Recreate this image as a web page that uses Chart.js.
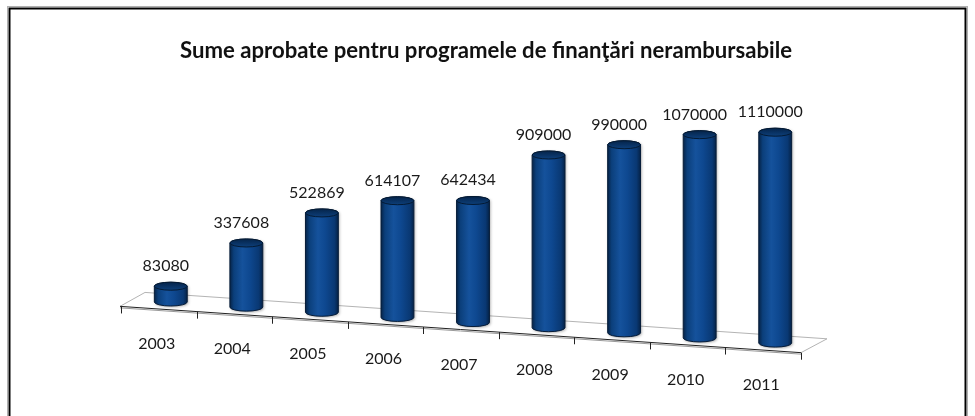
<!DOCTYPE html>
<html>
<head>
<meta charset="utf-8">
<script src="https://cdn.jsdelivr.net/npm/chart.js@4.4.1/dist/chart.umd.min.js"></script>
<style>
html,body{margin:0;padding:0;background:#fff;}
canvas{display:block;}
</style>
</head>
<body>
<canvas id="c" width="975" height="416"></canvas>
<script>
const titleText = 'Sume aprobate pentru programele de finanţări nerambursabile';
const categories = ['2003','2004','2005','2006','2007','2008','2009','2010','2011'];
const values = [83080, 337608, 522869, 614107, 642434, 909000, 990000, 1070000, 1110000];
const valueLabels = ['83080','337608','522869','614107','642434','909000','990000','1070000','1110000'];

const SLOPE = 0.068;      // perspective slope of floor
const DEPTH_X = 12, DEPTH_Y = 7; // half depth offset of floor
const RY = 4;

const cylPlugin = {
  id: 'cyl3d',
  beforeDraw(chart) {
    const ctx = chart.ctx;
    ctx.save();
    ctx.fillStyle = '#fff';
    ctx.fillRect(0, 0, chart.width, chart.height);
    // frame
    ctx.strokeStyle = '#b0b0b0';
    ctx.lineWidth = 1;
    ctx.strokeRect(7.5, 6.5, 960, 430);
    ctx.strokeStyle = '#000';
    ctx.lineWidth = 2;
    ctx.strokeRect(9.5, 8.5, 956, 430);
    // title
    ctx.fillStyle = '#111';
    ctx.font = 'bold 22px Lato';
    const w = ctx.measureText(titleText).width;
    const target = 612;
    ctx.translate(486, 58);
    ctx.scale(target / w, 1);
    ctx.textAlign = 'center';
    ctx.textBaseline = 'alphabetic';
    ctx.fillText(titleText, 0, 0);
    ctx.restore();
  },
  beforeDatasetsDraw(chart) {
    const ctx = chart.ctx;
    const xs = chart.scales.x, ys = chart.scales.y;
    const x0 = xs.getPixelForValue(0);
    const y0 = ys.getPixelForValue(0);
    const baseAt = x => y0 + SLOPE * (x - x0);
    const L = chart.chartArea.left, R = chart.chartArea.right;
    const front = x => baseAt(x + DEPTH_X) + DEPTH_Y;
    const back = x => baseAt(x - DEPTH_X) - DEPTH_Y;
    const fx1 = L - DEPTH_X - 1, fx2 = R - DEPTH_X;
    const bx1 = L + DEPTH_X, bx2 = R + DEPTH_X + 2;
    ctx.save();
    ctx.lineWidth = 1;
    ctx.strokeStyle = '#b4b4b4';
    ctx.beginPath();
    ctx.moveTo(fx1, front(fx1));
    ctx.lineTo(bx1, back(bx1));
    ctx.lineTo(bx2, back(bx2));
    ctx.lineTo(fx2, front(fx2));
    ctx.stroke();
    ctx.strokeStyle = '#9a9a9a';
    ctx.beginPath();
    ctx.moveTo(fx1, front(fx1) + 1.5);
    ctx.lineTo(fx2, front(fx2) + 1.5);
    ctx.stroke();
    ctx.strokeStyle = '#222';
    ctx.beginPath();
    ctx.moveTo(fx1, front(fx1));
    ctx.lineTo(fx2, front(fx2));
    ctx.stroke();
    const step = (R - L) / categories.length;
    for (let k = 0; k <= categories.length; k++) {
      const tx = Math.round(L - DEPTH_X + step * k) + 0.5;
      const ty = front(tx);
      ctx.beginPath();
      ctx.moveTo(tx, ty);
      ctx.lineTo(tx, ty + 7);
      ctx.stroke();
    }
    ctx.restore();
  },
  afterDatasetsDraw(chart) {
    const ctx = chart.ctx;
    const xs = chart.scales.x;
    const x0 = xs.getPixelForValue(0);
    const meta = chart.getDatasetMeta(0);
    ctx.save();
    meta.data.forEach((bar, i) => {
      const cx = bar.x;
      const rx = bar.width / 2;
      const shift = SLOPE * (cx - x0);
      const baseY = bar.base + shift;
      const topY = bar.y + shift;
      const g = ctx.createLinearGradient(cx - rx, 0, cx + rx, 0);
      g.addColorStop(0, '#062448');
      g.addColorStop(0.12, '#0b3f7b');
      g.addColorStop(0.38, '#15529c');
      g.addColorStop(0.6, '#0e4890');
      g.addColorStop(0.88, '#093873');
      g.addColorStop(1, '#052247');
      ctx.save();
      ctx.shadowColor = 'rgba(0,0,0,0.35)';
      ctx.shadowBlur = 3;
      ctx.shadowOffsetX = 1;
      ctx.shadowOffsetY = 1;
      ctx.beginPath();
      ctx.moveTo(cx - rx, topY);
      ctx.lineTo(cx - rx, baseY);
      ctx.ellipse(cx, baseY, rx, RY, 0, Math.PI, 0, true);
      ctx.lineTo(cx + rx, topY);
      ctx.ellipse(cx, topY, rx, RY, 0, 0, Math.PI, true);
      ctx.closePath();
      ctx.fillStyle = g;
      ctx.fill();
      ctx.restore();
      ctx.strokeStyle = '#061c38';
      ctx.lineWidth = 1;
      ctx.stroke();
      const tg = ctx.createLinearGradient(0, topY - RY, 0, topY + RY);
      tg.addColorStop(0, '#05244a');
      tg.addColorStop(1, '#0d3f7a');
      ctx.beginPath();
      ctx.ellipse(cx, topY, rx, RY, 0, 0, Math.PI * 2);
      ctx.fillStyle = tg;
      ctx.fill();
      ctx.strokeStyle = '#041a33';
      ctx.stroke();
      ctx.fillStyle = '#1a1a1a';
      ctx.font = '16px Lato';
      ctx.textAlign = 'center';
      ctx.textBaseline = 'alphabetic';
      ctx.fillText(valueLabels[i], cx - 5, topY - 15);
      ctx.fillText(categories[i], cx - 14, baseY + 47);
    });
    ctx.restore();
  }
};

new Chart(document.getElementById('c'), {
  type: 'bar',
  data: {
    labels: categories,
    datasets: [{
      data: values,
      backgroundColor: 'rgba(0,0,0,0)',
      borderWidth: 0,
      barPercentage: 0.87,
      categoryPercentage: 0.5
    }]
  },
  options: {
    responsive: false,
    animation: false,
    devicePixelRatio: 1,
    layout: { padding: { left: 133, right: 162, top: 74, bottom: 114 } },
    plugins: { legend: { display: false }, title: { display: false }, tooltip: { enabled: false } },
    scales: {
      x: { display: false, offset: true },
      y: { display: false, min: 0, max: 1200000 }
    }
  },
  plugins: [cylPlugin]
});
</script>
</body>
</html>
